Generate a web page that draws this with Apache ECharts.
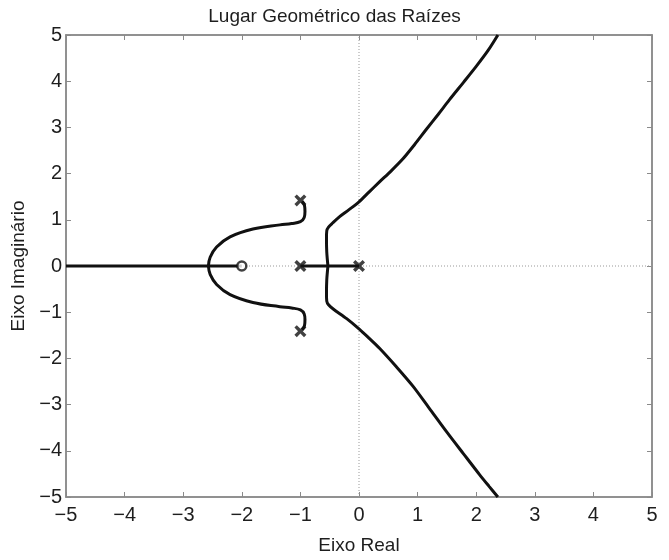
<!DOCTYPE html>
<html>
<head>
<meta charset="utf-8">
<script src="https://cdn.jsdelivr.net/npm/echarts@6/dist/echarts.min.js"></script>
<style>
  html, body { margin: 0; padding: 0; background: #fff; }
  #main { width: 669px; height: 560px; }
</style>
</head>
<body>
<div id="main"></div>
<script>
// polos e zeros
var poles = [[0, 0], [-1, 0], [-1, 1.42], [-1, -1.41]];
var zeros = [[-2, 0]];

// trechos no eixo real
var realLeft = [[-5, 0], [-2, 0]];
var realRight = [[-1, 0], [0, 0]];

// ramos que vão para as assíntotas
var branchUp = [[-0.53, 0], [-0.55, 0.3], [-0.555, 0.6], [-0.55, 0.76], [-0.52, 0.84], [-0.45, 0.93],
  [-0.33, 1.07], [-0.17, 1.22], [0, 1.39], [0.17, 1.6], [0.35, 1.82], [0.55, 2.06], [0.75, 2.32],
  [0.95, 2.63], [1.15, 2.96], [1.35, 3.28], [1.545, 3.6], [1.78, 3.97], [2.0, 4.32], [2.2, 4.66], [2.37, 5]];
var branchDown = [[-0.53, 0], [-0.55, -0.3], [-0.555, -0.6], [-0.55, -0.76], [-0.52, -0.84], [-0.44, -0.93],
  [-0.21, -1.14], [0, -1.36], [0.17, -1.56], [0.35, -1.78], [0.63, -2.17], [0.92, -2.6], [1.2, -3.08],
  [1.49, -3.58], [1.78, -4.06], [2.06, -4.52], [2.22, -4.77], [2.37, -5]];

// ramos dos polos complexos
var complexUp = [[-0.97, 1.40], [-0.93, 1.31], [-0.922, 1.18], [-0.935, 1.05], [-1.0, 0.96], [-1.15, 0.92],
  [-1.35, 0.89], [-1.81, 0.8], [-2.2, 0.63], [-2.43, 0.41], [-2.54, 0.19], [-2.57, 0]];
var complexDown = [[-0.97, -1.38], [-0.93, -1.29], [-0.922, -1.16], [-0.935, -1.04], [-1.0, -0.95], [-1.15, -0.91],
  [-1.35, -0.88], [-1.81, -0.79], [-2.2, -0.62], [-2.43, -0.4], [-2.54, -0.18], [-2.57, 0]];

var chartDom = document.getElementById('main');
var myChart = echarts.init(chartDom);

var axisGrey = '#8a8a8a';
var textColor = '#1e1e1e';
var fmt = function (v) { return v < 0 ? '\u2212' + Math.abs(v) : String(v); };
var xMark = 'path://M0,2L2,0L5,3L8,0L10,2L7,5L10,8L8,10L5,7L2,10L0,8L3,5Z';

function curve(data, smooth) {
  return {
    type: 'line', data: data, showSymbol: false, smooth: smooth || false,
    lineStyle: { color: '#111', width: 3 }, silent: true, z: 3
  };
}

var option = {
  animation: false,
  backgroundColor: '#fff',
  title: {
    text: 'Lugar Geométrico das Raízes',
    left: 'center', top: 2,
    textStyle: { fontFamily: 'Liberation Sans', fontWeight: 'normal', fontSize: 19, color: textColor }
  },
  grid: { left: 66, right: 17, top: 35, bottom: 58, show: true, borderColor: axisGrey, borderWidth: 1.5 },
  xAxis: [{
    type: 'value', min: -5, max: 5, interval: 1,
    name: 'Eixo Real', nameLocation: 'middle', nameGap: 39,
    nameTextStyle: { fontFamily: 'Liberation Sans', fontSize: 19, color: textColor },
    axisLine: { show: true, onZero: false, lineStyle: { color: axisGrey, width: 1.5 } },
    axisTick: { show: true, inside: true, length: 5, lineStyle: { color: axisGrey } },
    axisLabel: { formatter: fmt, fontFamily: 'Liberation Sans', fontSize: 20, color: textColor, margin: 8 },
    splitLine: { show: false }
  }, {
    type: 'value', min: -5, max: 5, interval: 1, position: 'top',
    axisLine: { show: true, onZero: false, lineStyle: { color: axisGrey, width: 1.5 } },
    axisTick: { show: true, inside: true, length: 5, lineStyle: { color: axisGrey } },
    axisLabel: { show: false }, splitLine: { show: false }
  }],
  yAxis: [{
    type: 'value', min: -5, max: 5, interval: 1,
    name: 'Eixo Imaginário', nameLocation: 'middle', nameGap: 34,
    nameTextStyle: { fontFamily: 'Liberation Sans', fontSize: 19, color: textColor, padding: [0, 0, 0, 0] },
    axisLine: { show: true, onZero: false, lineStyle: { color: axisGrey, width: 1.5 } },
    axisTick: { show: true, inside: true, length: 5, lineStyle: { color: axisGrey } },
    axisLabel: { formatter: fmt, fontFamily: 'Liberation Sans', fontSize: 20, color: textColor, margin: 4 },
    splitLine: { show: false }
  }, {
    type: 'value', min: -5, max: 5, interval: 1, position: 'right',
    axisLine: { show: true, onZero: false, lineStyle: { color: axisGrey, width: 1.5 } },
    axisTick: { show: true, inside: true, length: 5, lineStyle: { color: axisGrey } },
    axisLabel: { show: false }, splitLine: { show: false }
  }],
  series: [
    {
      type: 'line', data: [[-5, 0], [5, 0]], showSymbol: false, silent: true, z: 1,
      lineStyle: { color: '#999', width: 1, type: [1, 2] }
    },
    {
      type: 'line', data: [[0, -5], [0, 5]], showSymbol: false, silent: true, z: 1,
      lineStyle: { color: '#999', width: 1, type: [1, 2] }
    },
    curve(realLeft),
    curve(realRight),
    curve(branchUp, 0.3),
    curve(branchDown, 0.3),
    curve(complexUp, 0.4),
    curve(complexDown, 0.4),
    {
      type: 'scatter', data: poles, symbol: xMark, symbolSize: 12, silent: true, z: 5,
      itemStyle: { color: '#111' }
    },
    {
      type: 'scatter', data: zeros, symbol: 'circle', symbolSize: 9, silent: true, z: 5,
      itemStyle: { color: '#fff', borderColor: '#111', borderWidth: 2.5 }
    }
  ]
};

option && myChart.setOption(option);
</script>
</body>
</html>
